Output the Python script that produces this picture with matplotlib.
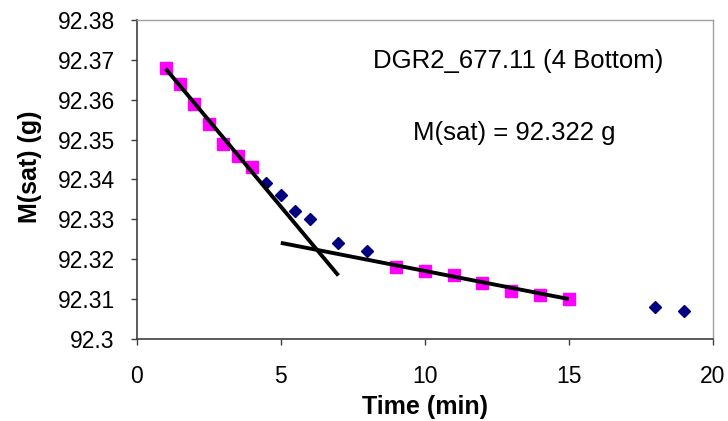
import matplotlib
matplotlib.use("Agg")
import matplotlib.pyplot as plt
from matplotlib.ticker import FuncFormatter

plt.rcParams['font.family'] = ['Liberation Sans', 'DejaVu Sans']

# all measured points (navy diamonds)
time_all = [1, 1.5, 2, 2.5, 3, 3.5, 4, 4.5, 5, 5.5, 6, 7, 8, 9, 10, 11, 12, 13, 14, 15, 18, 19]
mass_all = [92.368, 92.364, 92.359, 92.354, 92.349, 92.346, 92.343, 92.339, 92.336, 92.332,
            92.330, 92.324, 92.322, 92.318, 92.317, 92.316, 92.314, 92.312, 92.311, 92.310,
            92.308, 92.307]

# points used in the fits (magenta squares)
time_fit1 = [1, 1.5, 2, 2.5, 3, 3.5, 4]
mass_fit1 = [92.368, 92.364, 92.359, 92.354, 92.349, 92.346, 92.343]
time_fit2 = [9, 10, 11, 12, 13, 14, 15]
mass_fit2 = [92.318, 92.317, 92.316, 92.314, 92.312, 92.311, 92.310]

# fitted lines (end points)
line1_x = [1, 7]
line1_y = [92.3678, 92.3159]
line2_x = [5, 15]
line2_y = [92.3241, 92.3100]

title_text = "DGR2_677.11 (4 Bottom)"
msat_text = "M(sat) = 92.322 g"

fig = plt.figure(figsize=(7.28, 4.21), dpi=100)
ax = fig.add_axes([0.188, 0.195, 0.791, 0.7575])

ax.plot(time_all, mass_all, linestyle='none', marker='D', markersize=6.5,
        color='#000080', zorder=2)
ax.plot(time_fit1 + time_fit2, mass_fit1 + mass_fit2, linestyle='none', marker='s',
        markersize=8.4, color='#FF00FF', zorder=3)
ax.plot(line1_x, line1_y, color='black', linewidth=2.8, solid_capstyle='butt', zorder=4)
ax.plot(line2_x, line2_y, color='black', linewidth=2.8, solid_capstyle='butt', zorder=4)

ax.set_xlim(0, 20)
ax.set_ylim(92.30, 92.38)
ax.set_xticks([0, 5, 10, 15, 20])
ax.set_yticks([92.30, 92.31, 92.32, 92.33, 92.34, 92.35, 92.36, 92.37, 92.38])
ax.yaxis.set_major_formatter(FuncFormatter(lambda v, p: f"{v:.2f}".rstrip('0')))

ax.tick_params(direction='out', length=4, width=1, labelsize=16.5, color='#404040')
ax.tick_params(axis='x', pad=15)
ax.tick_params(axis='y', pad=12)

for s in ['left', 'bottom']:
    ax.spines[s].set_color('#404040')
    ax.spines[s].set_linewidth(1.2)
for s in ['top', 'right']:
    ax.spines[s].set_color('#a0a0a0')
    ax.spines[s].set_linewidth(1.0)

ax.set_xlabel("Time (min)", fontsize=18, fontweight='bold')
ax.set_ylabel("M(sat) (g)", fontsize=18, fontweight='bold')
ax.xaxis.set_label_coords(0.5, -0.175)
ax.yaxis.set_label_coords(-0.165, 0.54)

ax.text(0.663, 0.87, title_text, transform=ax.transAxes, fontsize=18.5,
        ha='center', va='center')
ax.text(0.656, 0.645, msat_text, transform=ax.transAxes, fontsize=18.5,
        ha='center', va='center')

fig.savefig("out.png", dpi=100)
